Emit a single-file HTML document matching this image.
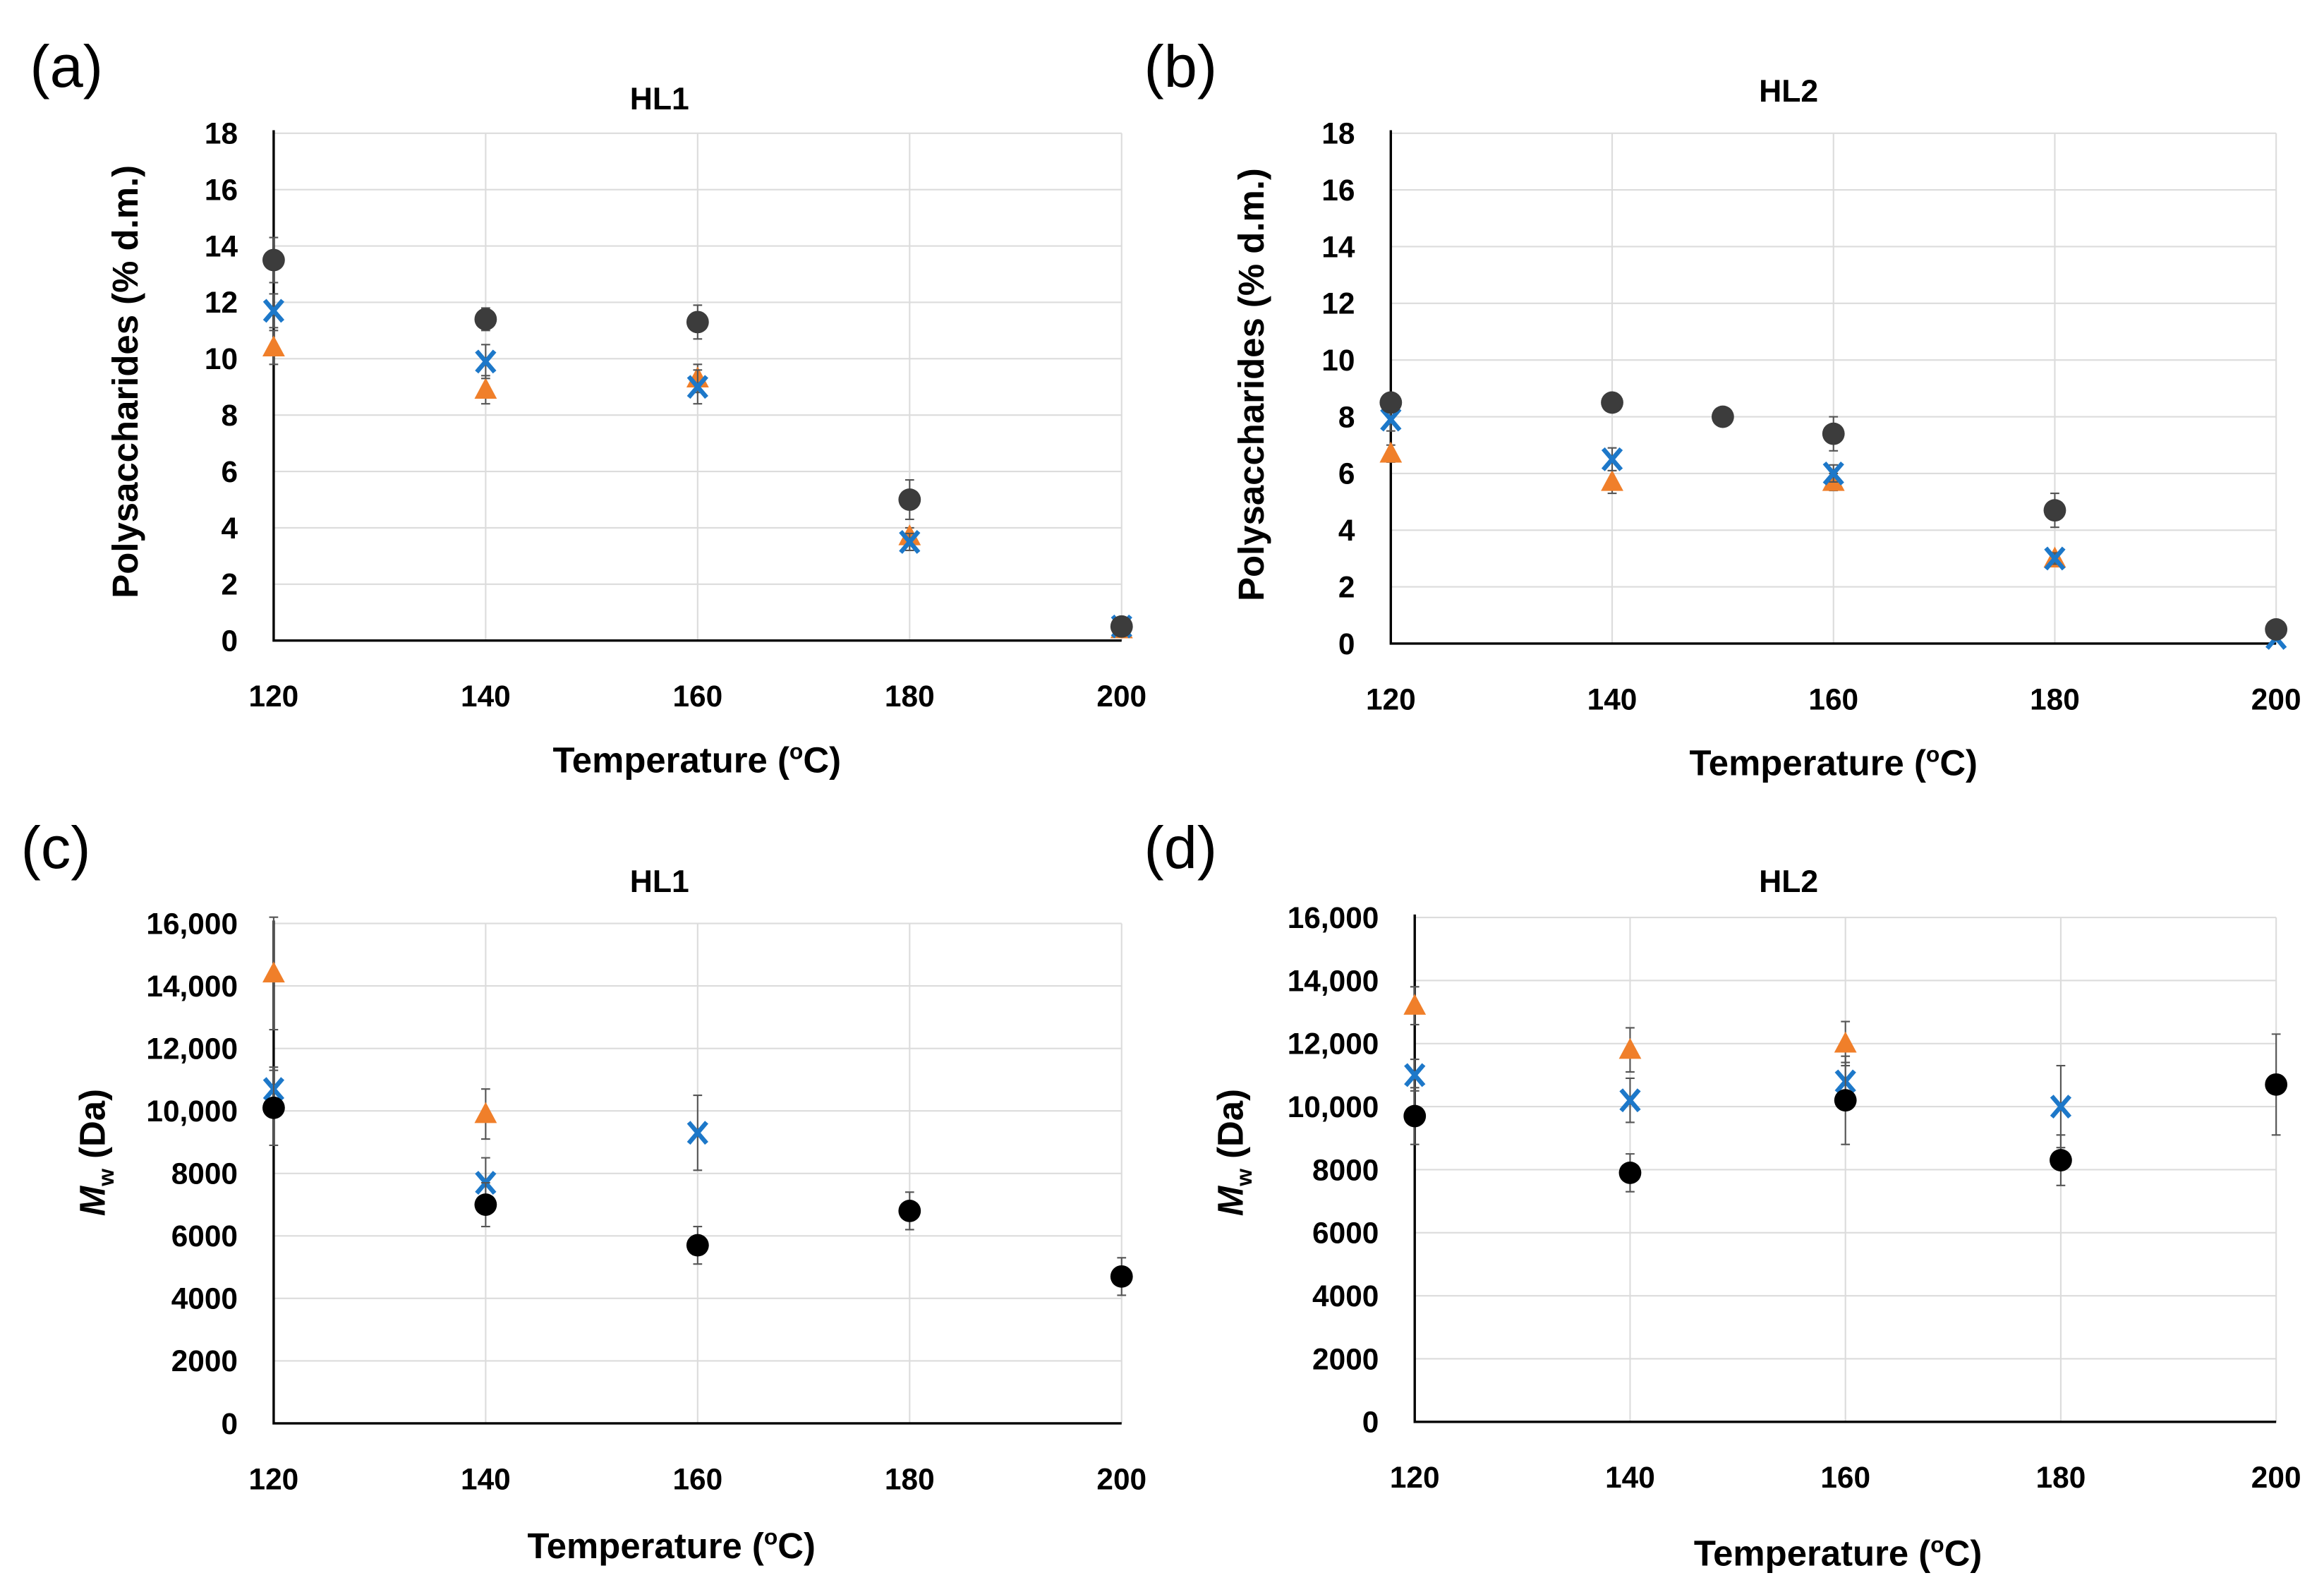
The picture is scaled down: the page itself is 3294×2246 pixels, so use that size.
<!DOCTYPE html>
<html><head><meta charset="utf-8"><style>
html,body{margin:0;padding:0;background:#fff;}
svg{display:block;}
text{font-family:"Liberation Sans Narrow","Liberation Sans",sans-serif;}
</style></head><body>
<svg id="fig" width="3294" height="2246" viewBox="0 0 1554 1059" preserveAspectRatio="none" xmlns="http://www.w3.org/2000/svg"></svg>
<script>
const xCats=[120,140,150,160,180,200];
const xTicks=[120,140,160,180,200];
// Panel a (HL1 polysaccharides)
const aCircle=[13.5,11.4,null,11.3,5.0,0.5];
const aCircleErr=[0.8,0.4,0,0.6,0.7,0.1];
const aCross=[11.7,9.9,null,9.0,3.5,0.5];
const aCrossErr=[0.6,0.6,0,0.6,0.3,0.1];
const aTri=[10.4,8.9,null,9.3,3.7,0.4];
const aTriErr=[0.6,0.5,0,0.5,0.3,0.1];
// Panel b (HL2 polysaccharides)
const bCircle=[8.5,8.5,8.0,7.4,4.7,0.5];
const bCircleErr=[0.3,0.2,0.2,0.6,0.6,0.1];
const bCross=[7.9,6.5,null,6.0,3.0,0.2];
const bCrossErr=[0.4,0.4,0,0.3,0.2,0.1];
const bTri=[6.7,5.7,null,5.7,3.0,null];
const bTriErr=[0.3,0.4,0,0.3,0.2,0];
// Panel c (HL1 Mw)
const cCircle=[10100,7000,null,5700,6800,4700];
const cCircleErr=[1200,700,0,600,600,600];
const cCross=[10700,7700,null,9300,null,null];
const cCrossErr=[700,800,0,1200,0,0];
const cTri=[14400,9900,null,null,null,null];
const cTriErr=[1800,800,0,0,0,0];
// Panel d (HL2 Mw)
const dCircle=[9700,7900,null,10200,8300,10700];
const dCircleErr=[900,600,0,1400,800,1600];
const dCross=[11000,10200,null,10800,10000,null];
const dCrossErr=[500,700,0,600,1300,0];
const dTri=[13200,11800,null,12000,null,null];
const dTriErr=[600,700,0,700,0,0];
const yTicksA=[0,2,4,6,8,10,12,14,16,18];
const yLabelsA=["0","2","4","6","8","10","12","14","16","18"];
const yTicksM=[0,2000,4000,6000,8000,10000,12000,14000,16000];
const yLabelsM=["0","2000","4000","6000","8000","10,000","12,000","14,000","16,000"];

const NS="http://www.w3.org/2000/svg";
const svg=document.getElementById('fig');
function mk(tag,attrs,parent,txt){const e=document.createElementNS(NS,tag);for(const k in attrs)e.setAttribute(k,attrs[k]);if(txt!==undefined)e.textContent=txt;(parent||svg).appendChild(e);return e;}

function panel(cfg){
  const g=mk('g',{});
  
  
  const X=v=>cfg.x0+(v-120)/(200-120)*(cfg.x1-cfg.x0);
  const Y=v=>cfg.y0-(v/cfg.ymax)*(cfg.y0-cfg.y1);
  const t1=mk('text',{x:cfg.lx,y:cfg.ly,'font-size':40,fill:'#000'},g,'('+cfg.id+')');
  
  
  const tt=mk('text',{x:cfg.tx,y:cfg.ty,'font-size':21,'font-weight':'bold','text-anchor':'middle'},g,cfg.title);
  
  
  cfg.yt.forEach((v,i)=>{
    const gl=mk('line',{x1:cfg.x0,x2:cfg.x1,y1:Y(v),y2:Y(v),stroke:'#dcdcdc','stroke-width':1},g);
    
    
    const tl=mk('text',{x:cfg.x0-24,y:Y(v)+7,'font-size':20,'font-weight':'bold','text-anchor':'end'},g,cfg.yl[i]);
    
    
  });
  xTicks.forEach(v=>{
    const gl=mk('line',{x1:X(v),x2:X(v),y1:cfg.y1,y2:cfg.y0,stroke:'#dcdcdc','stroke-width':1},g);
    
    
    const tl=mk('text',{x:X(v),y:cfg.y0+44,'font-size':20,'font-weight':'bold','text-anchor':'middle'},g,String(v));
    
    
  });
  const ax=mk('path',{d:`M${cfg.x0} ${cfg.y1-2}V${cfg.y0}H${cfg.x1}`,stroke:'#000','stroke-width':1.6,fill:'none'},g);
  
  
  const xt=mk('text',{x:cfg.xtx,y:cfg.xty,'font-size':24,'font-weight':'bold','text-anchor':'middle'},g);
  
  
  xt.innerHTML='Temperature (<tspan font-size="15" dy="-9">o</tspan><tspan dy="9">C)</tspan>';
  const yt=mk('text',{x:0,y:0,'font-size':24,'font-weight':'bold','text-anchor':'middle',transform:`translate(${cfg.ytx},${cfg.yty}) rotate(-90)`},g);
  
  
  if(cfg.mw) yt.innerHTML='<tspan font-style="italic">M</tspan><tspan font-size="15" dy="6">w</tspan><tspan dy="-6"> (Da)</tspan>';
  else yt.textContent='Polysaccharides (% d.m.)';
  const series=[[cfg.tri,cfg.triErr,'tri'],[cfg.cross,cfg.crossErr,'cross'],[cfg.circ,cfg.circErr,'circle']];
  series.forEach(([vals,errs,kind])=>{
    vals.forEach((v,i)=>{
      if(v===null)return;
      const cx=X(xCats[i]),cy=Y(v),e=errs[i];
      if(e>0){
        const eb=mk('path',{d:`M${cx} ${Y(v+e)}V${Y(v-e)}M${cx-3} ${Y(v+e)}h6M${cx-3} ${Y(v-e)}h6`,stroke:'#555','stroke-width':1,fill:'none'},g);
        
        
      }
      let m;
      if(kind==='circle') m=mk('circle',{cx:cx,cy:cy,r:7.5,fill:cfg.circColor},g);
      else if(kind==='tri') m=mk('path',{d:`M${cx} ${cy-8}L${cx+7.5} ${cy+6}H${cx-7.5}Z`,fill:'#f07f2a'},g);
      else m=mk('path',{d:`M${cx-6} ${cy-7}L${cx+6} ${cy+7}M${cx+6} ${cy-7}L${cx-6} ${cy+7}`,stroke:'#1d78c9','stroke-width':3,fill:'none'},g);
      
      
    });
  });
}
panel({id:'a',title:'HL1',x0:183,x1:750,y0:428,y1:89,ymax:18,yt:yTicksA,yl:yLabelsA,lx:20,ly:58,tx:441,ty:73,xtx:466,xty:516,ytx:92,yty:255,
  circ:aCircle,circErr:aCircleErr,cross:aCross,crossErr:aCrossErr,tri:aTri,triErr:aTriErr,circColor:'#3c3c3c'});
panel({id:'b',title:'HL2',x0:930,x1:1522,y0:430,y1:89,ymax:18,yt:yTicksA,yl:yLabelsA,lx:765,ly:58,tx:1196,ty:68,xtx:1226,xty:518,ytx:845,yty:257,
  circ:bCircle,circErr:bCircleErr,cross:bCross,crossErr:bCrossErr,tri:bTri,triErr:bTriErr,circColor:'#3c3c3c'});
panel({id:'c',title:'HL1',x0:183,x1:750,y0:951,y1:617,ymax:16000,yt:yTicksM,yl:yLabelsM,lx:14,ly:580,tx:441,ty:596,xtx:449,xty:1041,ytx:70,yty:770,mw:true,
  circ:cCircle,circErr:cCircleErr,cross:cCross,crossErr:cCrossErr,tri:cTri,triErr:cTriErr,circColor:'#000'});
panel({id:'d',title:'HL2',x0:946,x1:1522,y0:950,y1:613,ymax:16000,yt:yTicksM,yl:yLabelsM,lx:765,ly:580,tx:1196,ty:596,xtx:1229,xty:1046,ytx:831,yty:770,mw:true,
  circ:dCircle,circErr:dCircleErr,cross:dCross,crossErr:dCrossErr,tri:dTri,triErr:dTriErr,circColor:'#000'});
</script>
</body></html>
